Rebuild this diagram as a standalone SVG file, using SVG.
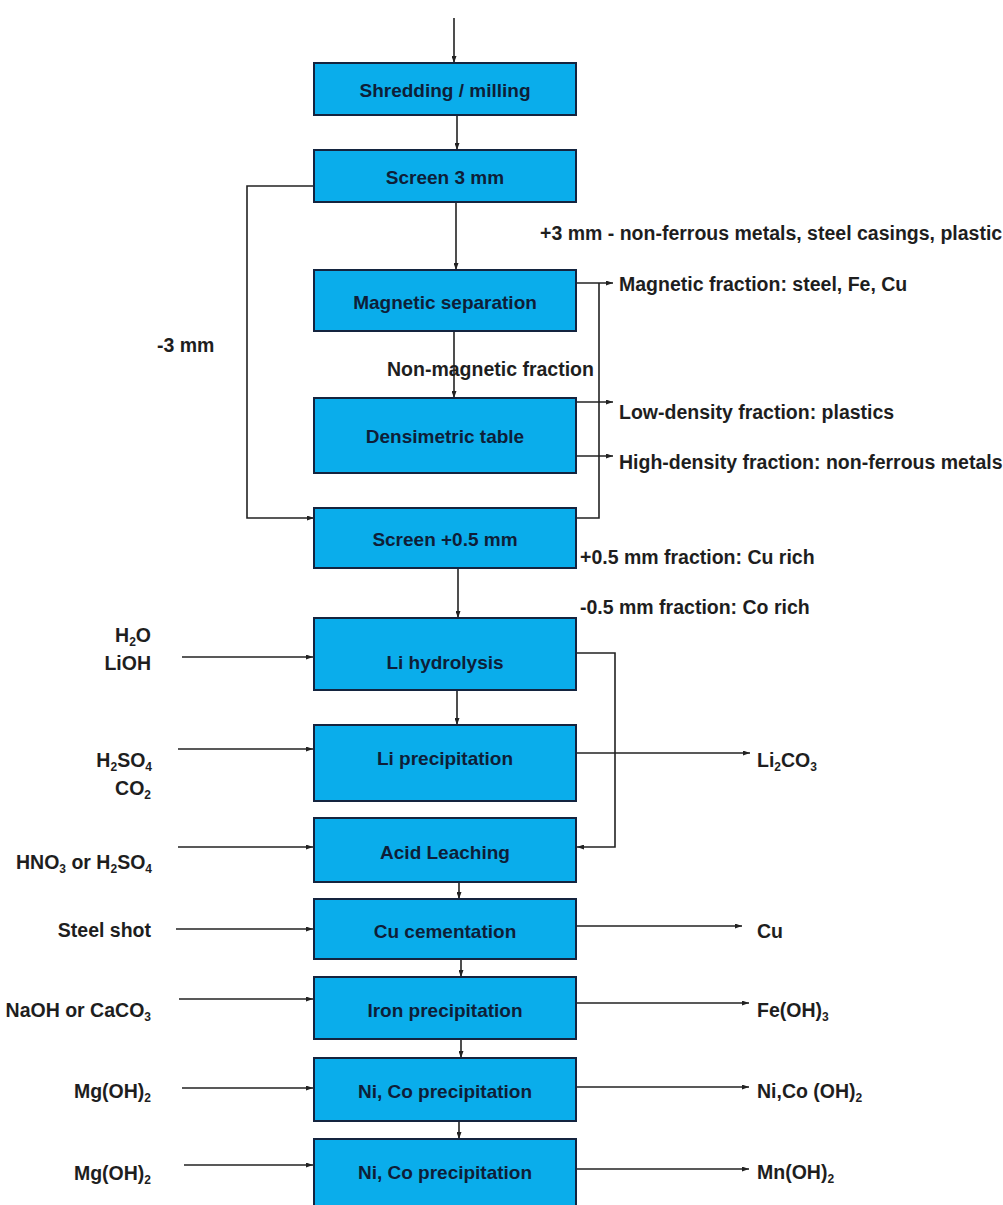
<svg xmlns="http://www.w3.org/2000/svg" width="1003" height="1205" viewBox="0 0 1003 1205">
<defs>
<style>
.box{fill:#0AADEB;stroke:#14243F;stroke-width:2}
.bt{font-family:"Liberation Sans",Arial,sans-serif;font-weight:bold;font-size:19px;fill:#0E1E38;text-anchor:middle}
.lb{font-family:"Liberation Sans",Arial,sans-serif;font-weight:bold;font-size:19.5px;fill:#1E1E1E}
.r{text-anchor:end}
.c{fill:none;stroke:#222;stroke-width:1.6}
.a{marker-end:url(#ah)}
</style>
<marker id="ah" markerWidth="7" markerHeight="5" refX="7" refY="2.5" orient="auto" markerUnits="userSpaceOnUse">
<path d="M0,0 L7,2.5 L0,5 z" fill="#222"/>
</marker>
</defs>
<rect width="1003" height="1205" fill="#fff"/>

<g id="connectors">
<path class="c a" d="M454,18 V63"/>
<path class="c a" d="M457,116 V150"/>
<path class="c a" d="M456,203 V270"/>
<path class="c a" d="M454,332 V398"/>
<path class="c a" d="M458,569 V618"/>
<path class="c a" d="M457,691 V725"/>
<path class="c a" d="M459,883 V899"/>
<path class="c a" d="M461,960 V977"/>
<path class="c a" d="M461,1040 V1058"/>
<path class="c a" d="M459,1122 V1139"/>
<path class="c a" d="M314,186 H247 V518 H314"/>
<path class="c a" d="M576,283 H613"/>
<path class="c" d="M599,283 V518 H576"/>
<path class="c a" d="M576,402 H613"/>
<path class="c a" d="M576,456 H613"/>
<path class="c a" d="M576,653 H615 V847 H577"/>
<path class="c a" d="M576,753 H750"/>
<path class="c a" d="M576,926 H742"/>
<path class="c a" d="M576,1003 H749"/>
<path class="c a" d="M576,1087 H749"/>
<path class="c a" d="M576,1169 H749"/>
<path class="c a" d="M182,657 H313"/>
<path class="c a" d="M178,749 H313"/>
<path class="c a" d="M178,847 H313"/>
<path class="c a" d="M176,929 H313"/>
<path class="c a" d="M179,999 H313"/>
<path class="c a" d="M182,1088 H313"/>
<path class="c a" d="M184,1165 H313"/>
</g>

<g id="shredding"><rect class="box" x="314" y="63" width="262" height="52"/><text class="bt" x="445" y="97">Shredding / milling</text></g>
<g id="screen3"><rect class="box" x="314" y="150" width="262" height="52"/><text class="bt" x="445" y="184">Screen 3 mm</text></g>
<g id="magnetic"><rect class="box" x="314" y="270" width="262" height="61"/><text class="bt" x="445" y="309">Magnetic separation</text></g>
<g id="densimetric"><rect class="box" x="314" y="398" width="262" height="75"/><text class="bt" x="445" y="443">Densimetric table</text></g>
<g id="screen05"><rect class="box" x="314" y="508" width="262" height="60"/><text class="bt" x="445" y="546">Screen +0.5 mm</text></g>
<g id="lihydrolysis"><rect class="box" x="314" y="618" width="262" height="72"/><text class="bt" x="445" y="669">Li hydrolysis</text></g>
<g id="liprecipitation"><rect class="box" x="314" y="725" width="262" height="76"/><text class="bt" x="445" y="765">Li precipitation</text></g>
<g id="acidleaching"><rect class="box" x="314" y="818" width="262" height="64"/><text class="bt" x="445" y="859">Acid Leaching</text></g>
<g id="cucementation"><rect class="box" x="314" y="899" width="262" height="60"/><text class="bt" x="445" y="938">Cu cementation</text></g>
<g id="ironprecipitation"><rect class="box" x="314" y="977" width="262" height="62"/><text class="bt" x="445" y="1017">Iron precipitation</text></g>
<g id="nicoprecipitation1"><rect class="box" x="314" y="1058" width="262" height="63"/><text class="bt" x="445" y="1098">Ni, Co precipitation</text></g>
<g id="nicoprecipitation2"><rect class="box" x="314" y="1139" width="262" height="90"/><text class="bt" x="445" y="1179">Ni, Co precipitation</text></g>

<g id="labels">
<text class="lb" x="540" y="240">+3 mm - non-ferrous metals, steel casings, plastic</text>
<text class="lb" x="619" y="291">Magnetic fraction: steel, Fe, Cu</text>
<text class="lb" x="157" y="352">-3 mm</text>
<text class="lb" x="387" y="376">Non-magnetic fraction</text>
<text class="lb" x="619" y="419">Low-density fraction: plastics</text>
<text class="lb" x="619" y="469">High-density fraction: non-ferrous metals</text>
<text class="lb" x="580" y="564">+0.5 mm fraction: Cu rich</text>
<text class="lb" x="580" y="614">-0.5 mm fraction: Co rich</text>
<text class="lb r" x="151" y="642">H<tspan font-size="12" dy="4">2</tspan><tspan dy="-4">O</tspan></text>
<text class="lb r" x="151" y="670">LiOH</text>
<text class="lb r" x="152" y="767">H<tspan font-size="12" dy="4">2</tspan><tspan dy="-4">SO</tspan><tspan font-size="12" dy="4">4</tspan></text>
<text class="lb r" x="151" y="795">CO<tspan font-size="12" dy="4">2</tspan></text>
<text class="lb r" x="152" y="869">HNO<tspan font-size="12" dy="4">3</tspan><tspan dy="-4"> or H</tspan><tspan font-size="12" dy="4">2</tspan><tspan dy="-4">SO</tspan><tspan font-size="12" dy="4">4</tspan></text>
<text class="lb r" x="151" y="937">Steel shot</text>
<text class="lb r" x="151" y="1017">NaOH or CaCO<tspan font-size="12" dy="4">3</tspan></text>
<text class="lb r" x="151" y="1098">Mg(OH)<tspan font-size="12" dy="4">2</tspan></text>
<text class="lb r" x="151" y="1180">Mg(OH)<tspan font-size="12" dy="4">2</tspan></text>
<text class="lb" x="757" y="767">Li<tspan font-size="12" dy="4">2</tspan><tspan dy="-4">CO</tspan><tspan font-size="12" dy="4">3</tspan></text>
<text class="lb" x="757" y="938">Cu</text>
<text class="lb" x="757" y="1017">Fe(OH)<tspan font-size="12" dy="4">3</tspan></text>
<text class="lb" x="757" y="1098">Ni,Co (OH)<tspan font-size="12" dy="4">2</tspan></text>
<text class="lb" x="757" y="1179">Mn(OH)<tspan font-size="12" dy="4">2</tspan></text>
</g>
</svg>
